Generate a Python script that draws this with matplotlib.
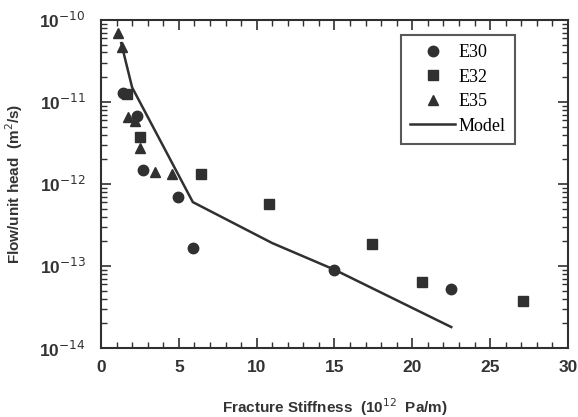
import matplotlib
matplotlib.use("Agg")
import matplotlib.pyplot as plt
from matplotlib.ticker import MultipleLocator, LogLocator, NullFormatter

e30_x = [1.43, 2.3, 2.7, 4.95, 5.9, 15.0, 22.5]
e30_y = [1.3e-11, 6.8e-12, 1.48e-12, 6.9e-13, 1.66e-13, 8.9e-14, 5.2e-14]
e32_x = [1.67, 2.5, 6.4, 10.8, 17.4, 20.6, 27.1]
e32_y = [1.25e-11, 3.7e-12, 1.32e-12, 5.7e-13, 1.85e-13, 6.3e-14, 3.7e-14]
e35_x = [1.09, 1.35, 1.75, 2.2, 2.5, 3.47, 4.56]
e35_y = [6.9e-11, 4.7e-11, 6.6e-12, 5.9e-12, 2.75e-12, 1.4e-12, 1.32e-12]
model_x = [1.3, 2.0, 5.9, 11.0, 15.0, 22.5]
model_y = [5.2e-11, 1.5e-11, 6.0e-13, 1.9e-13, 9.0e-14, 1.8e-14]

xticks = [0, 5, 10, 15, 20, 25, 30]
yticks = [1e-14, 1e-13, 1e-12, 1e-11, 1e-10]
ytick_labels = [r"10$^{-14}$", r"10$^{-13}$", r"10$^{-12}$", r"10$^{-11}$", r"10$^{-10}$"]

c = "#303030"
fig = plt.figure(figsize=(5.78, 4.17), dpi=100)
ax = fig.add_axes([0.1747, 0.1655, 0.808, 0.787])

ax.plot(e30_x, e30_y, "o", color=c, ms=7.5, label="E30", ls="none")
ax.plot(e32_x, e32_y, "s", color=c, ms=7.5, label="E32", ls="none")
ax.plot(e35_x, e35_y, "^", color=c, ms=7, label="E35", ls="none")
ax.plot(model_x, model_y, "-", color=c, lw=1.8, label="Model")

ax.set_yscale("log")
ax.set_xlim(0, 30)
ax.set_ylim(1e-14, 1e-10)
ax.set_xticks(xticks)
ax.set_yticks(yticks)
ax.set_yticklabels(ytick_labels)
ax.xaxis.set_minor_locator(MultipleLocator(1))
ax.yaxis.set_minor_locator(LogLocator(base=10, subs=range(2, 10), numticks=20))
ax.yaxis.set_minor_formatter(NullFormatter())
ax.tick_params(which="both", direction="in", top=True, right=True, color=c)
ax.tick_params(which="major", length=7, width=1.2)
ax.tick_params(which="minor", length=4, width=1)
ax.tick_params(axis="x", which="major", pad=9)
ax.tick_params(axis="y", which="major", pad=11)
for lab in ax.get_xticklabels() + ax.get_yticklabels():
    lab.set_fontfamily("Liberation Sans")
    lab.set_fontweight("bold")
    lab.set_fontsize(12.5)
    lab.set_color("#333333")
for s in ax.spines.values():
    s.set_linewidth(1.5)
    s.set_color(c)

ax.set_xlabel(r"Fracture Stiffness  (10$^{12}$  Pa/m)", fontfamily="Liberation Sans",
              fontweight="bold", fontsize=11, color="#333333", labelpad=15)
ax.set_ylabel(r"Flow/unit head  (m$^{2}$/s)", fontfamily="Liberation Sans",
              fontweight="bold", fontsize=11, color="#333333", labelpad=10)

leg = ax.legend(loc="upper right", bbox_to_anchor=(0.886, 0.954), fancybox=False,
                prop={"family": "Liberation Serif", "size": 13}, handlelength=2.5,
                borderpad=0.5, labelspacing=0.42, handletextpad=0.2, borderaxespad=0)
leg.get_frame().set_edgecolor(c)
leg.get_frame().set_linewidth(1.5)

fig.savefig("out.png", dpi=100)
